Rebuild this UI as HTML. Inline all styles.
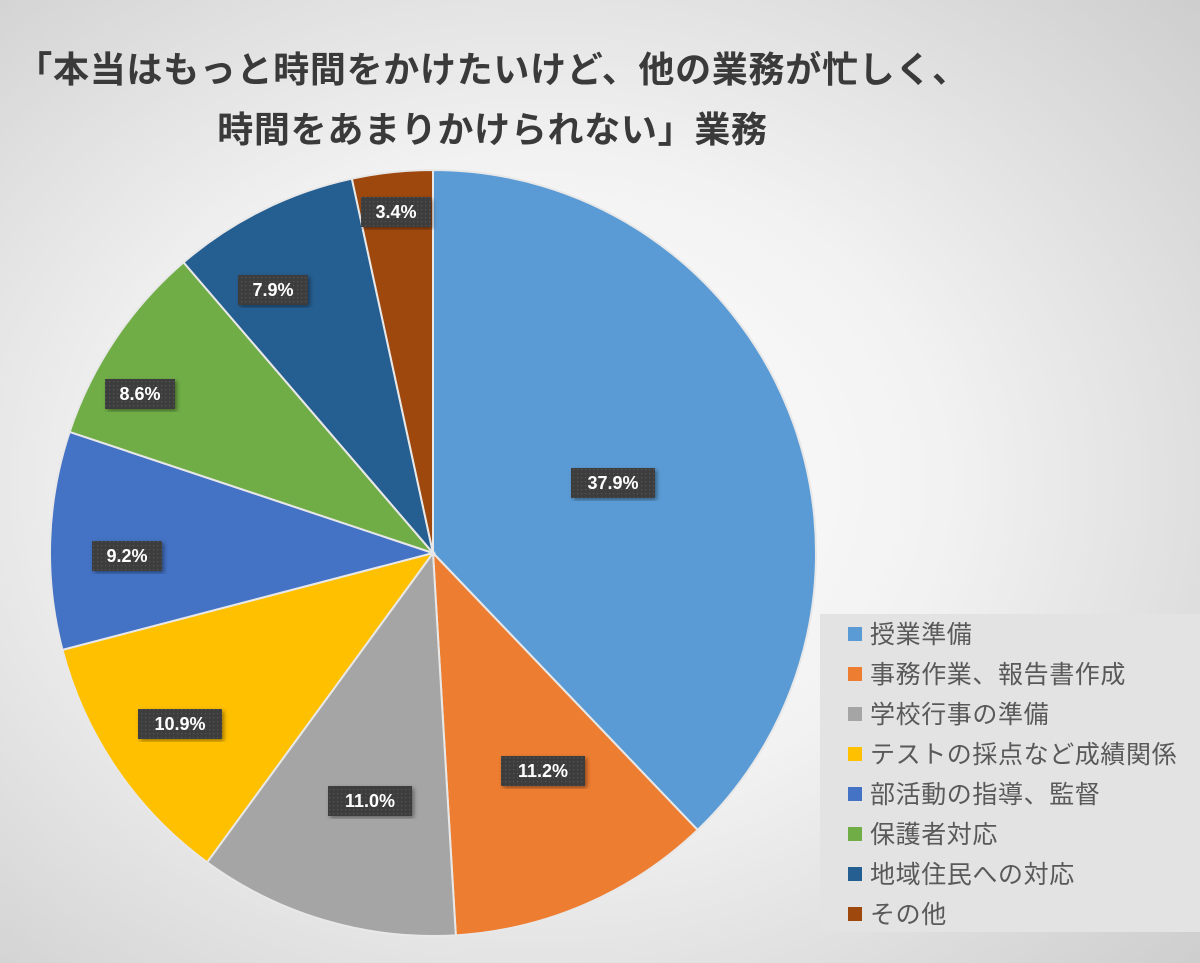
<!DOCTYPE html>
<html><head><meta charset="utf-8"><style>
html,body{margin:0;padding:0}
body{width:1200px;height:963px;overflow:hidden;background:radial-gradient(ellipse 75% 75% at 45% 50%,#ffffff 0%,#f2f2f2 45%,#cdcdcd 100%);font-family:"Liberation Sans","Noto Sans CJK JP",sans-serif;position:relative}
.t{position:absolute;left:0;width:985px;text-align:center;font-weight:bold;font-size:36px;letter-spacing:0.7px;color:#3a3a3a;white-space:nowrap;line-height:44px}
.lg{position:absolute;left:820px;top:614px;width:380px;height:318px;background:#e3e3e3}
.li{position:absolute;left:28px;font-size:25px;letter-spacing:0.6px;line-height:30px;color:#595959;white-space:nowrap;font-family:"Liberation Sans","Noto Sans CJK JP",sans-serif}
.li i{display:inline-block;width:14px;height:14px;margin-right:8px;vertical-align:2px}
</style></head><body>
<div class="t" style="top:48px">「本当はもっと時間をかけたいけど、他の業務が忙しく、</div>
<div class="t" style="top:108px">時間をあまりかけられない」業務</div>
<svg id="s" width="1200" height="963" style="position:absolute;left:0;top:0">
<defs><pattern id="p" width="4" height="4" patternUnits="userSpaceOnUse"><rect width="4" height="4" fill="#3c3c3c"/><rect x="1" y="1" width="1.2" height="1.2" fill="#555"/></pattern>
<filter id="sh"><feDropShadow dx="2" dy="2" stdDeviation="2" flood-opacity="0.4"/></filter></defs>
<g id="pie"></g><g id="lab"></g>
</svg>
<div class="lg">
<div class="li" style="top:6px"><i style="background:#5b9bd5"></i>授業準備</div>
<div class="li" style="top:46px"><i style="background:#ed7d31"></i>事務作業、報告書作成</div>
<div class="li" style="top:86px"><i style="background:#a5a5a5"></i>学校行事の準備</div>
<div class="li" style="top:126px"><i style="background:#ffc000"></i>テストの採点など成績関係</div>
<div class="li" style="top:166px"><i style="background:#4472c4"></i>部活動の指導、監督</div>
<div class="li" style="top:206px"><i style="background:#70ad47"></i>保護者対応</div>
<div class="li" style="top:246px"><i style="background:#255e91"></i>地域住民への対応</div>
<div class="li" style="top:286px"><i style="background:#9e480e"></i>その他</div>
</div>
<script>
var v=[37.9,11.2,11.0,10.9,9.2,8.6,7.9,3.4],c=["#5b9bd5","#ed7d31","#a5a5a5","#ffc000","#4472c4","#70ad47","#255e91","#9e480e"];
var L=[[613,483],[543,771],[370,801],[180,724],[127,556],[140,394],[273,290],[396,212]];
var cx=433,cy=553,r=383,tot=100.1,a=0,g=document.getElementById('pie'),lb=document.getElementById('lab'),ns="http://www.w3.org/2000/svg";
function pt(t){return [cx+r*Math.sin(t),cy-r*Math.cos(t)]}
for(var i=0;i<8;i++){var a0=a/tot*2*Math.PI;a+=v[i];var a1=a/tot*2*Math.PI;var p0=pt(a0),p1=pt(a1);
var e=document.createElementNS(ns,'path');e.setAttribute('d','M'+cx+','+cy+'L'+p0[0]+','+p0[1]+'A'+r+','+r+' 0 '+((a1-a0)>Math.PI?1:0)+' 1 '+p1[0]+','+p1[1]+'Z');
e.setAttribute('fill',c[i]);e.setAttribute('stroke','#e8e8e8');e.setAttribute('stroke-width','2');g.appendChild(e);
var s=v[i].toFixed(1)+'%',w=s.length>4?84:70;
var rc=document.createElementNS(ns,'rect');rc.setAttribute('x',L[i][0]-w/2);rc.setAttribute('y',L[i][1]-15);rc.setAttribute('width',w);rc.setAttribute('height',30);rc.setAttribute('fill','url(#p)');rc.setAttribute('filter','url(#sh)');lb.appendChild(rc);
var t=document.createElementNS(ns,'text');t.setAttribute('x',L[i][0]);t.setAttribute('y',L[i][1]+6);t.setAttribute('text-anchor','middle');t.setAttribute('fill','#fff');t.setAttribute('font-weight','bold');t.setAttribute('font-size','18');t.setAttribute('font-family','Liberation Sans, sans-serif');t.textContent=s;lb.appendChild(t);}
</script>
</body></html>
